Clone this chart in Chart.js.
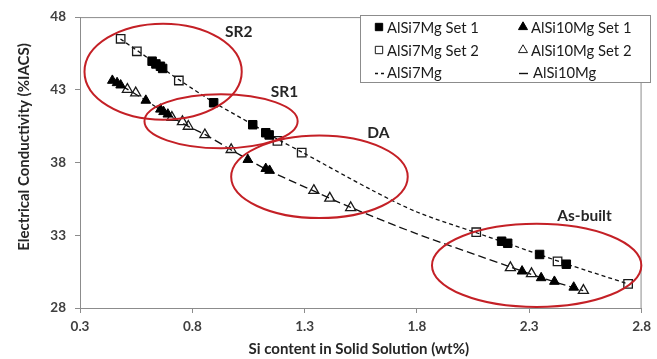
<!DOCTYPE html>
<html lang="en">
<head>
  <meta charset="UTF-8" />
  <title>Electrical Conductivity vs Si content</title>
  <script src="https://cdn.jsdelivr.net/npm/chart.js"></script>
  <style>
    * { margin: 0; padding: 0; box-sizing: border-box; }
    body { background: #fff; width: 657px; height: 359px; overflow: hidden; }
  </style>
</head>
<body>
  <canvas id="chart" width="657" height="359"></canvas>

  <script>
    // measured points (Si wt% / %IACS)
    const si7Set1X = [0.621, 0.638, 0.658, 0.668, 0.895, 1.069, 1.127, 1.142, 2.177, 2.204, 2.346, 2.465];
    const si7Set1Y = [44.97, 44.78, 44.62, 44.47, 42.11, 40.60, 40.05, 39.90, 32.59, 32.45, 31.68, 31.01];

    const si7Set2X = [0.481, 0.553, 0.740, 1.179, 1.287, 2.064, 2.426, 2.740];
    const si7Set2Y = [46.51, 45.65, 43.64, 39.49, 38.68, 33.21, 31.20, 29.66];

    const si10Set1X = [0.444, 0.465, 0.481, 0.593, 0.658, 0.672, 0.691, 1.047, 1.127, 1.144, 2.268, 2.353, 2.412, 2.498];
    const si10Set1Y = [43.64, 43.48, 43.32, 42.27, 41.66, 41.49, 41.32, 38.20, 37.58, 37.45, 30.53, 30.07, 29.82, 29.42];

    const si10Set2X = [0.511, 0.548, 0.709, 0.756, 0.782, 0.856, 0.973, 1.341, 1.412, 1.505, 2.216, 2.310, 2.541];
    const si10Set2Y = [43.03, 42.79, 41.10, 40.81, 40.49, 39.91, 38.89, 36.08, 35.55, 34.90, 30.77, 30.36, 29.21];

    // trend lines
    const trend7X = [0.48, 0.62, 0.74, 0.90, 1.07, 1.18, 1.29, 1.60, 1.80, 2.06, 2.20, 2.35, 2.47, 2.74];
    const trend7Y = [46.5, 45.0, 43.7, 42.1, 40.6, 39.6, 38.7, 36.1, 34.6, 33.2, 32.45, 31.65, 31.0, 29.66];

    const trend10X = [0.44, 0.51, 0.59, 0.69, 0.78, 0.86, 0.97, 1.05, 1.14, 1.34, 1.50, 1.80, 2.22, 2.35, 2.54];
    const trend10Y = [43.7, 43.05, 42.3, 41.3, 40.5, 39.9, 38.9, 38.2, 37.45, 36.05, 34.95, 33.1, 30.8, 30.1, 29.2];

    const xTicks = { min: 0.3, max: 2.8, step: 0.5 };
    const yTicks = { min: 28, max: 48, step: 5 };

    // heat treatment groups (ellipses, in data units)
    const regionNames = ['SR2', 'SR1', 'DA', 'As-built'];
    const regionCx = [0.670, 0.928, 1.366, 2.333];
    const regionCy = [44.25, 40.84, 37.02, 30.93];
    const regionRx = [0.350, 0.341, 0.393, 0.466];
    const regionRy = [3.30, 1.86, 2.84, 2.86];
    const labelX = [1.007, 1.210, 1.628, 2.546];
    const labelY = [46.95, 42.84, 40.03, 34.33];

    const pts = (xs, ys) => xs.map((x, i) => ({ x: x, y: ys[i] }));

    const FONT = 'Lato, "Open Sans", sans-serif';
    const RED = '#c42026';

    const frame = {
      id: 'frame',
      beforeDatasetsDraw(chart) {
        const { ctx, chartArea: a } = chart;
        ctx.save();
        ctx.strokeStyle = '#8c8c8c';
        ctx.lineWidth = 1;
        ctx.beginPath();
        ctx.moveTo(a.left, a.top + 0.5);
        ctx.lineTo(a.right - 0.5, a.top + 0.5);
        ctx.lineTo(a.right - 0.5, a.bottom);
        ctx.stroke();
        ctx.restore();
      }
    };

    const regions = {
      id: 'regions',
      afterDatasetsDraw(chart) {
        const { ctx, scales: { x, y } } = chart;
        ctx.save();
        ctx.strokeStyle = RED;
        ctx.lineWidth = 2;
        regionNames.forEach((name, i) => {
          const cx = x.getPixelForValue(regionCx[i]);
          const cy = y.getPixelForValue(regionCy[i]);
          const rx = x.getPixelForValue(regionCx[i] + regionRx[i]) - cx;
          const ry = cy - y.getPixelForValue(regionCy[i] + regionRy[i]);
          ctx.beginPath();
          ctx.ellipse(cx, cy, rx, ry, 0, 0, Math.PI * 2);
          ctx.stroke();
        });
        ctx.fillStyle = '#262626';
        ctx.font = 'bold 15.5px ' + FONT;
        ctx.textAlign = 'center';
        ctx.textBaseline = 'middle';
        regionNames.forEach((name, i) => {
          ctx.fillText(name, x.getPixelForValue(labelX[i]), y.getPixelForValue(labelY[i]));
        });
        ctx.restore();
      }
    };

    const axisTitles = {
      id: 'axisTitles',
      afterDraw(chart) {
        const { ctx, chartArea: a } = chart;
        ctx.save();
        ctx.fillStyle = '#262626';
        ctx.font = 'bold 15px ' + FONT;
        ctx.textAlign = 'center';
        ctx.textBaseline = 'middle';
        ctx.fillText('Si content in Solid Solution (wt%)', (a.left + a.right) / 2 - 2, 349);
        ctx.translate(24, 147);
        ctx.rotate(-Math.PI / 2);
        ctx.fillText('Electrical Conductivity (%IACS)', 0, 0);
        ctx.restore();
      }
    };

    const boxLegend = {
      id: 'boxLegend',
      afterDraw(chart) {
        const ctx = chart.ctx;
        const ds = chart.data.datasets;
        ctx.save();
        ctx.fillStyle = '#fff';
        ctx.fillRect(361, 16, 290, 67);
        ctx.strokeStyle = '#8c8c8c';
        ctx.lineWidth = 1;
        ctx.strokeRect(360.5, 15.5, 290, 67);

        const cols = [379, 523];
        const rows = [27, 50, 72];
        ctx.font = '14.8px ' + FONT;
        ctx.textBaseline = 'middle';
        ctx.textAlign = 'left';
        ds.forEach((d, i) => {
          const cx = cols[i % 2];
          const cy = rows[Math.floor(i / 2)];
          ctx.strokeStyle = d.borderColor;
          ctx.fillStyle = d.backgroundColor;
          let tx = cx + 8;
          if (d.type === 'line') {
            ctx.lineWidth = 1.4;
            ctx.beginPath();
            if (i === 4) {
              ctx.moveTo(cx - 4, cy + 1.5); ctx.lineTo(cx - 1, cy + 1.5);
              ctx.moveTo(cx + 2, cy + 1.5); ctx.lineTo(cx + 5, cy + 1.5);
            } else {
              ctx.moveTo(cx - 4, cy + 1.5); ctx.lineTo(cx + 5, cy + 1.5);
              tx = cx + 10;
            }
            ctx.stroke();
          } else {
            Chart.helpers.drawPoint(ctx, {
              pointStyle: d.pointStyle,
              radius: 5.2,
              borderWidth: d.borderWidth
            }, cx, cy);
          }
          ctx.fillStyle = '#1a1a1a';
          ctx.fillText(d.label, tx, cy + 1);
        });
        ctx.restore();
      }
    };

    const tickFont = { family: FONT, size: 13.5, weight: 'bold' };

    new Chart(document.getElementById('chart').getContext('2d'), {
      type: 'scatter',
      data: {
        datasets: [
          {
            label: 'AlSi7Mg Set 1',
            data: pts(si7Set1X, si7Set1Y),
            pointStyle: 'rect',
            pointRadius: 6,
            backgroundColor: '#000',
            borderColor: '#000',
            borderWidth: 1
          },
          {
            label: 'AlSi10Mg Set 1',
            data: pts(si10Set1X, si10Set1Y),
            pointStyle: 'triangle',
            pointRadius: 5.6,
            backgroundColor: '#000',
            borderColor: '#000',
            borderWidth: 1
          },
          {
            label: 'AlSi7Mg Set 2',
            data: pts(si7Set2X, si7Set2Y),
            pointStyle: 'rect',
            pointRadius: 6,
            backgroundColor: 'rgba(0,0,0,0)',
            borderColor: '#1a1a1a',
            borderWidth: 1.3
          },
          {
            label: 'AlSi10Mg Set 2',
            data: pts(si10Set2X, si10Set2Y),
            pointStyle: 'triangle',
            pointRadius: 5.8,
            backgroundColor: 'rgba(0,0,0,0)',
            borderColor: '#1a1a1a',
            borderWidth: 1.3
          },
          {
            type: 'line',
            label: 'AlSi7Mg',
            data: pts(trend7X, trend7Y),
            borderColor: '#111',
            backgroundColor: '#111',
            borderWidth: 1.3,
            borderDash: [4, 3],
            pointRadius: 0,
            tension: 0.3,
            fill: false
          },
          {
            type: 'line',
            label: 'AlSi10Mg',
            data: pts(trend10X, trend10Y),
            borderColor: '#111',
            backgroundColor: '#111',
            borderWidth: 1.3,
            borderDash: [8, 4],
            pointRadius: 0,
            tension: 0.3,
            fill: false
          }
        ]
      },
      options: {
        responsive: false,
        animation: false,
        layout: { padding: { top: 16, right: 9, left: 0, bottom: 0 } },
        plugins: {
          legend: { display: false },
          tooltip: { enabled: false }
        },
        scales: {
          x: {
            type: 'linear',
            min: xTicks.min,
            max: xTicks.max,
            afterFit: s => { s.height = 51; },
            ticks: {
              stepSize: xTicks.step,
              callback: v => v.toFixed(1),
              font: tickFont,
              color: '#404040',
              padding: 6,
              maxRotation: 0
            },
            grid: { drawOnChartArea: false, drawTicks: true, tickLength: 5, color: '#8c8c8c' },
            border: { color: '#8c8c8c' }
          },
          y: {
            min: yTicks.min,
            max: yTicks.max,
            afterFit: s => { s.width = 80; },
            ticks: {
              stepSize: yTicks.step,
              font: tickFont,
              color: '#404040',
              padding: 9
            },
            grid: { drawOnChartArea: false, drawTicks: true, tickLength: 5, color: '#8c8c8c' },
            border: { color: '#8c8c8c' }
          }
        }
      },
      plugins: [frame, regions, axisTitles, boxLegend]
    });
  </script>
</body>
</html>
